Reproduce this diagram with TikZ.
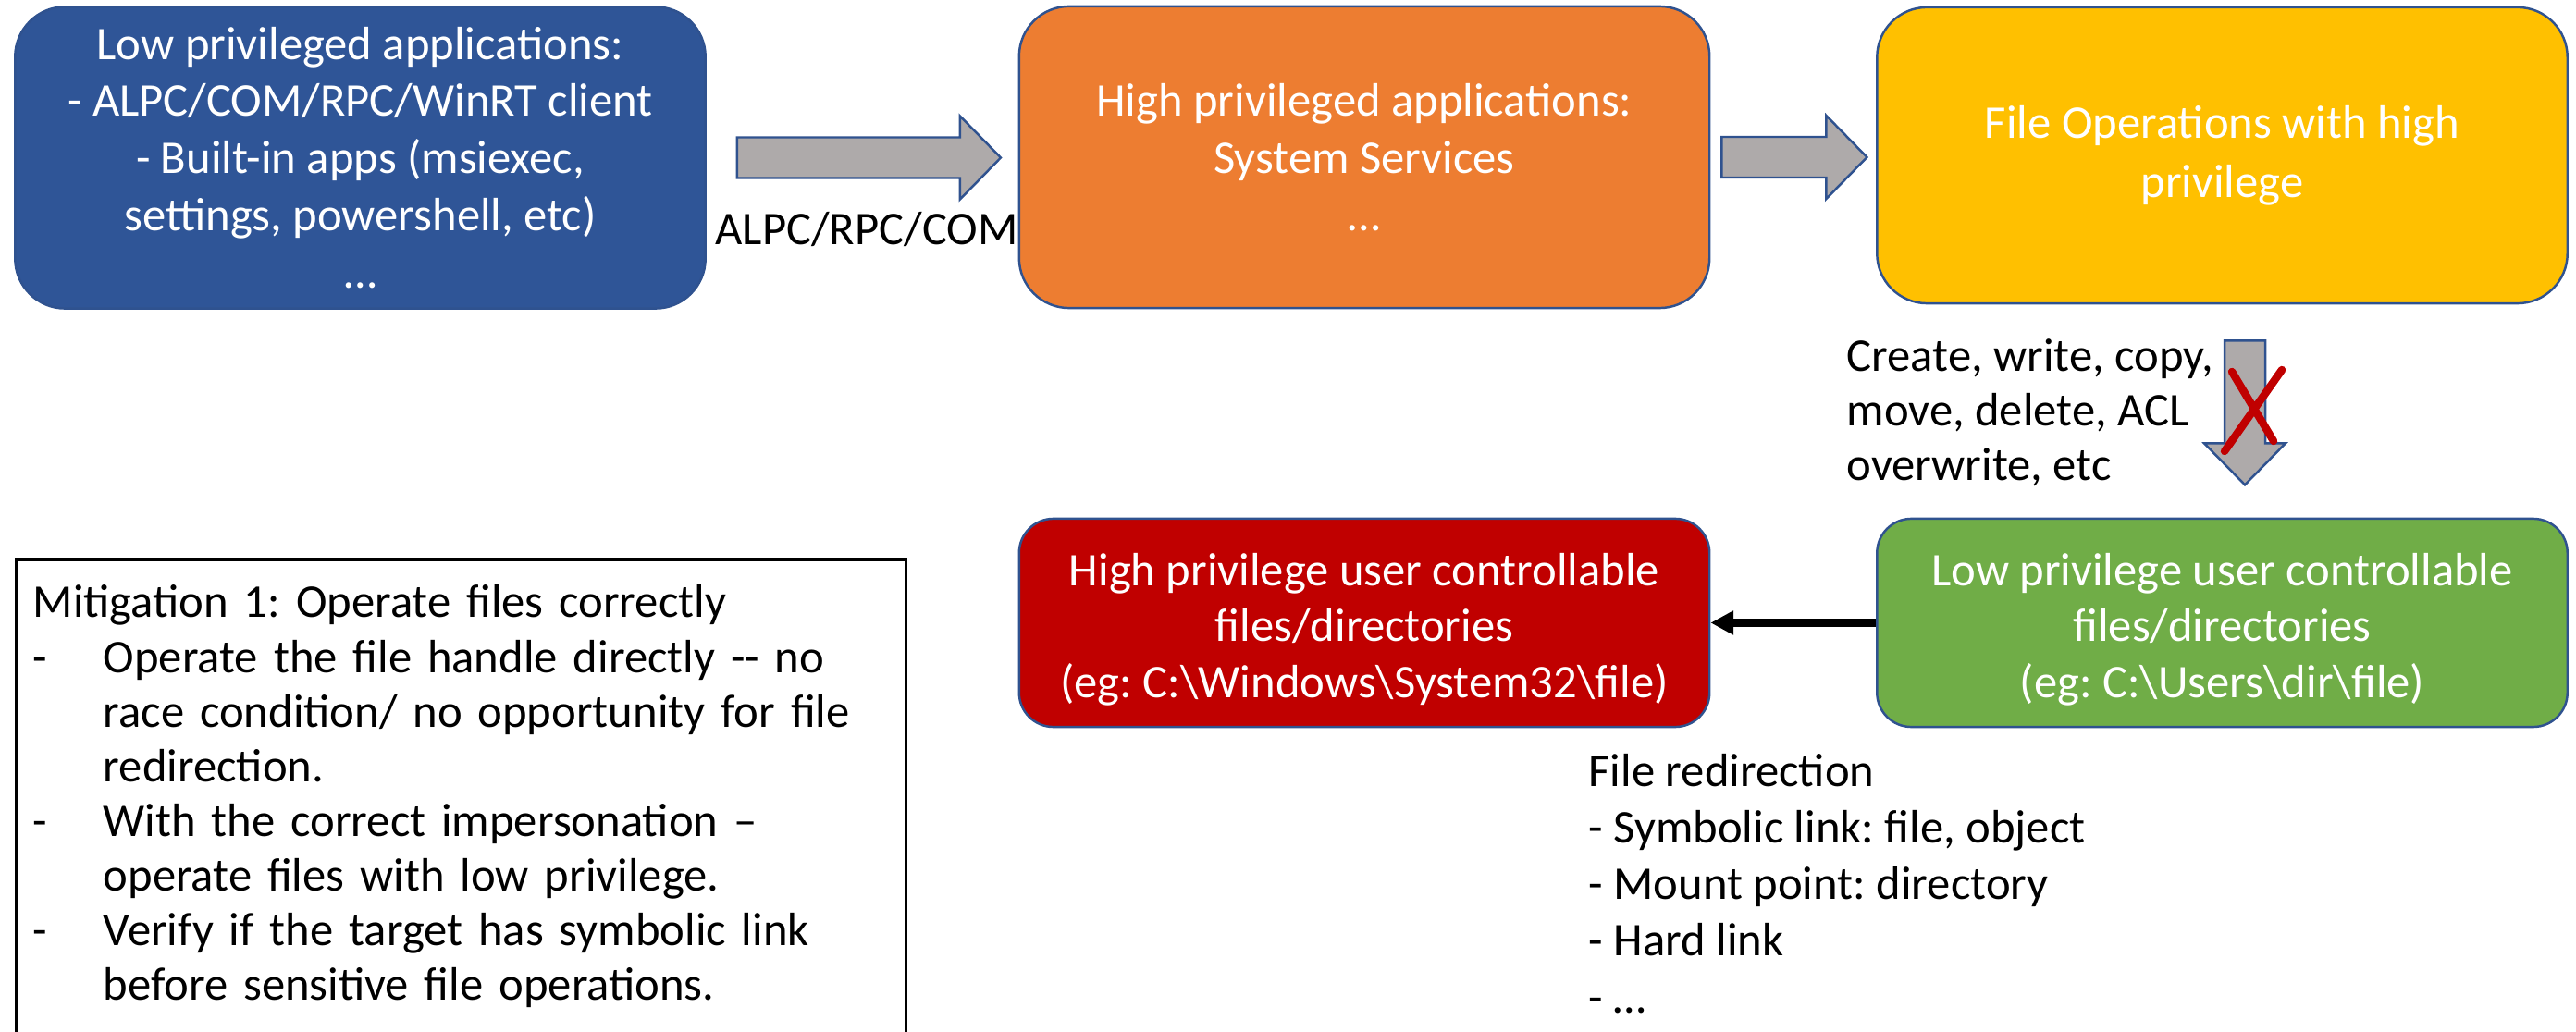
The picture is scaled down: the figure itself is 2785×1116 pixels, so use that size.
\documentclass[tikz,border=0pt]{standalone}
\usepackage{fontspec}
\setmainfont{Carlito}
\usetikzlibrary{calc,arrows.meta}
\definecolor{lowblue}{HTML}{2F5597}
\definecolor{svcorange}{HTML}{ED7D31}
\definecolor{opyellow}{HTML}{FFC000}
\definecolor{highred}{HTML}{C00000}
\definecolor{lowgreen}{HTML}{70AD47}
\definecolor{edgeblue}{HTML}{2F528F}
\definecolor{arrowgray}{HTML}{AEAAAA}
\begin{document}
\frenchspacing
\begin{tikzpicture}[x=0.01cm,y=-0.01cm,
        box/.style={draw=edgeblue,line width=0.7pt,rounded corners=0.54cm,text=white,align=center,minimum width=7.46cm,minimum height=3.26cm,font=\fontsize{14.4}{17.6}\selectfont},
        smallbox/.style={box,rounded corners=0.37cm,minimum height=2.25cm,font=\fontsize{14.4}{17.2}\selectfont},
        txt/.style={align=left,inner sep=0pt,font=\fontsize{14.4}{17.1}\selectfont},
        fat/.style={fill=arrowgray,draw=edgeblue,line width=0.7pt}]
        \useasboundingbox (0,0) rectangle (2785,1116);
        \node[box,fill=lowblue] (lowapp) at (389.5,170.5) {Low privileged applications:\\- ALPC/COM/RPC/WinRT client\\- Built-in apps (msiexec,\\settings, powershell, etc)\\…};
        \node[box,fill=svcorange] (highapp) at (1475,170) {High privileged applications:\\System Services\\…};
        \node[box,fill=opyellow,minimum height=3.2cm,font=\fontsize{14.4}{18.2}\selectfont] (fileop) at (2402.5,168) {File Operations with high\\privilege};
        \node[smallbox,fill=highred] (hightgt) at (1475,673.5) {\rule{0pt}{0.49cm}High privilege user controllable\\files/directories\\(eg: C:\textbackslash Windows\textbackslash System32\textbackslash file)};
        \node[smallbox,fill=lowgreen] (lowtgt) at (2402.5,673.5) {\rule{0pt}{0.49cm}Low privilege user controllable\\files/directories\\(eg: C:\textbackslash Users\textbackslash dir\textbackslash file)};
        \filldraw[fat] ($(lowapp.east)+(33,-22)$) -- ++(241,0) -- ++(0,-23) -- ++(44,45) -- ++(-44,45) -- ++(0,-23) -- ++(-241,0) -- cycle;
        \node[txt,anchor=base] (proto) at (937,265) {ALPC/RPC/COM};
        \filldraw[fat] ($(highapp.east)+(12,-22)$) -- ++(113,0) -- ++(0,-23) -- ++(44,45) -- ++(-44,45) -- ++(0,-23) -- ++(-113,0) -- cycle;
        \filldraw[fat] ($(fileop.south)+(2.5,39)$) -- ++(44,0) -- ++(0,111) -- ++(22,0) -- ++(-44,45) -- ++(-44,-45) -- ++(22,0) -- cycle;
        \draw[highred,line width=2.4pt,line cap=round] (2413,402) -- (2458,477) (2467,400) -- (2405,488);
        \node[txt,anchor=base west,font=\fontsize{14.4}{16.8}\selectfont] (fileops) at (1996,520) {Create, write, copy,\\move, delete, ACL\\overwrite, etc};
        \draw[line width=2.3pt,-{Triangle[length=7pt,width=7pt]}] (lowtgt.west) -- (hightgt.east);
        \node[txt,anchor=base west,font=\fontsize{14.4}{17.4}\selectfont] (redir) at (1717,1095) {File redirection\\- Symbolic link: file, object\\- Mount point: directory\\- Hard link\\- …};
        \node[txt,draw,line width=1pt,anchor=base west,inner xsep=0.18cm,text width=9.25cm,text height=0.63cm,text depth=5cm,font=\fontsize{14.4}{16.8}\selectfont] (mitig) at (16,668) {Mitigation 1: Operate files correctly\\
            \makebox[0.76cm][l]{-}Operate the file handle directly -{}- no\\
            \hspace*{0.76cm}race condition/ no opportunity for file\\
            \hspace*{0.76cm}redirection.\\
            \makebox[0.76cm][l]{-}With the correct impersonation –\\
            \hspace*{0.76cm}operate files with low privilege.\\
            \makebox[0.76cm][l]{-}Verify if the target has symbolic link\\
            \hspace*{0.76cm}before sensitive file operations.};
\end{tikzpicture}
\end{document}
